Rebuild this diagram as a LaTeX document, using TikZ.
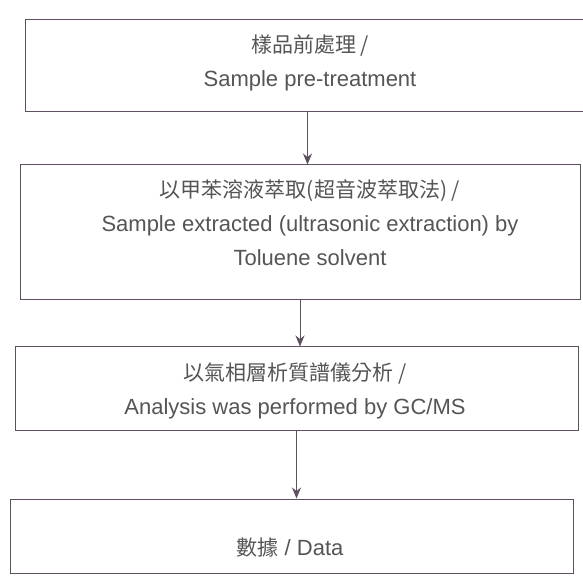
\documentclass[tikz,border=0pt]{standalone}
\usepackage{fontspec}
\setmainfont{Liberation Sans}
\newfontfamily\cjk{Noto Sans CJK TC}
\usetikzlibrary{arrows.meta}
\definecolor{edge}{HTML}{5E5060}
\definecolor{txt}{HTML}{555555}
\tikzset{
  box/.style={draw=edge, line width=1pt, inner sep=0pt},
  lbl/.style={text=txt, align=center, font=\fontsize{22}{34}\selectfont, inner sep=0pt},
  cjkline/.style={},
  arr/.style={draw=edge, line width=1pt, -{Stealth[length=11pt,width=9pt]}}
}
\newcommand{\cjktext}[1]{{\cjk\fontsize{21}{34}\selectfont #1}}
\begin{document}
\begin{tikzpicture}[x=1pt,y=1pt]
\useasboundingbox (0,0) rectangle (583,581);
\clip (0,0) rectangle (583,581);
\fill[white] (0,0) rectangle (583,581);
\node[box, minimum width=565pt, minimum height=92pt] (b1) at (307.5,515) {};
\node[box, minimum width=560pt, minimum height=135pt] (b2) at (300,348.5) {};
\node[box, minimum width=563pt, minimum height=83pt] (b3) at (296.5,192.5) {};
\node[box, minimum width=563pt, minimum height=74pt] (b4) at (291.5,45) {};
\node[lbl] (t1) at (310,518.5) {\cjktext{樣品前處理 /}\\Sample pre-treatment};
\node[lbl] (t2) at (310,358) {\cjktext{以甲苯溶液萃取(超音波萃取法) /}\\Sample extracted (ultrasonic extraction) by\\Toluene solvent};
\node[lbl] (t3) at (295,190) {\cjktext{以氣相層析質譜儀分析 /}\\Analysis was performed by GC/MS};
\node[lbl] (t4) at (290,33) {\cjktext{數據} / Data};
\draw[arr] (b1.south) -- (b1.south |- b2.north);
\draw[arr] (b2.south) -- (b2.south |- b3.north);
\draw[arr] (b3.south) -- (b3.south |- b4.north);
\end{tikzpicture}
\end{document}
